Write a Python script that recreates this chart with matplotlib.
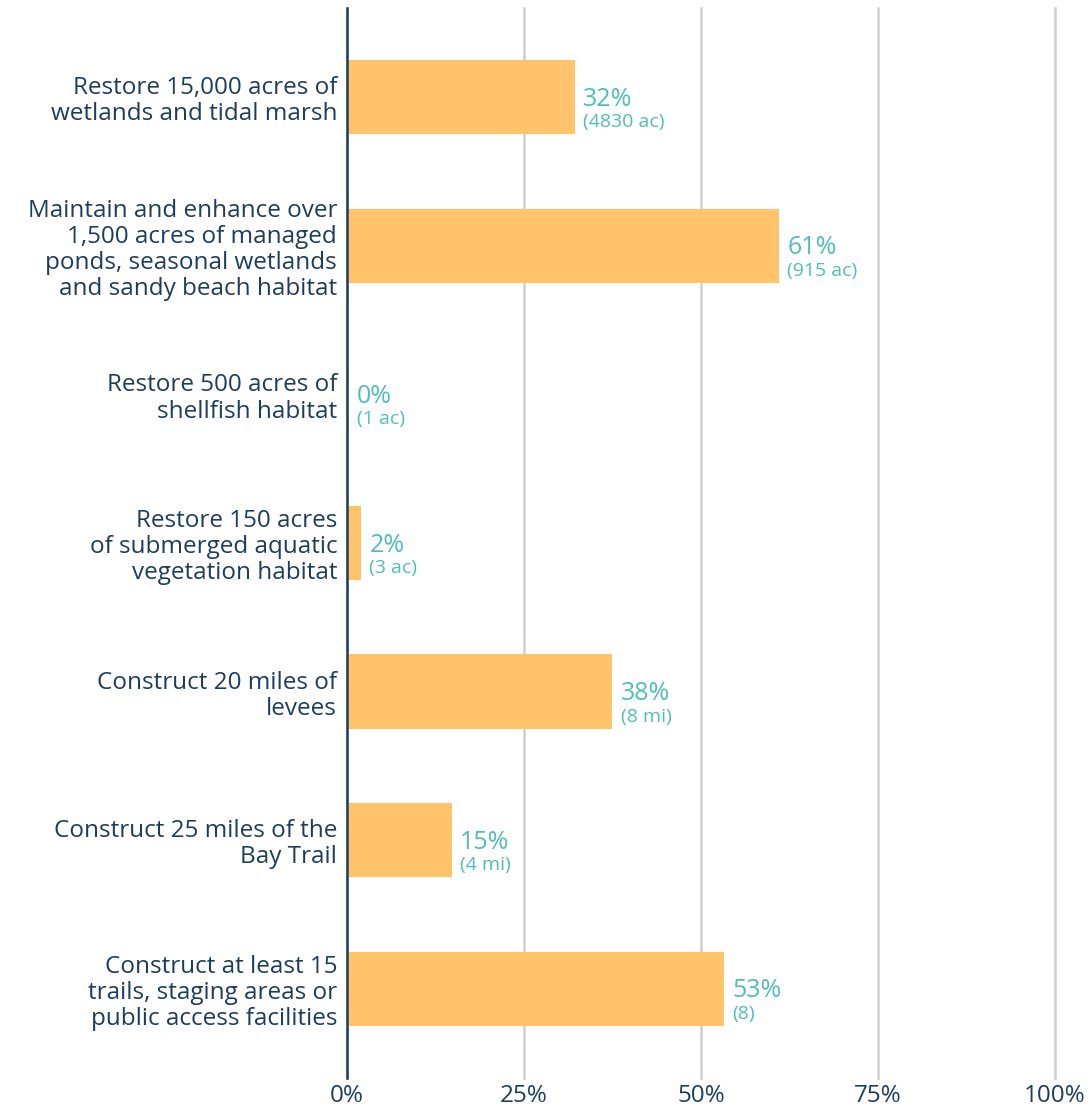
"""Progress toward restoration and access goals."""

import matplotlib.pyplot as plt
from matplotlib.ticker import FuncFormatter

goals = [
    "Restore 15,000 acres of\nwetlands and tidal marsh",
    "Maintain and enhance over\n1,500 acres of managed\nponds, seasonal wetlands\nand sandy beach habitat",
    "Restore 500 acres of\nshellfish habitat",
    "Restore 150 acres\nof submerged aquatic\nvegetation habitat",
    "Construct 20 miles of\nlevees",
    "Construct 25 miles of the\nBay Trail",
    "Construct at least 15\ntrails, staging areas or\npublic access facilities",
]
progress = [32.2, 61.0, 0.2, 2.0, 37.5, 14.8, 53.3]
pct_labels = ["32%", "61%", "0%", "2%", "38%", "15%", "53%"]
amount_labels = ["(4830 ac)", "(915 ac)", "(1 ac)", "(3 ac)", "(8 mi)", "(4 mi)", "(8)"]
ticks = [0, 25, 50, 75, 100]

BAR = "#FFC36A"
TEAL = "#4FBFB6"
NAVY = "#1D3D5E"
GRID = "#CFCFCF"

plt.rcParams["font.family"] = ["Open Sans", "DejaVu Sans"]

fig = plt.figure(figsize=(10.89, 11.10), dpi=100)
ax = fig.add_axes([0.3186, 0.0288, 0.9688 - 0.3186, 0.9928 - 0.0288])

y = list(range(len(goals)))
ax.barh(y, progress, height=0.5, color=BAR, zorder=3)

for i, (v, p, a) in enumerate(zip(progress, pct_labels, amount_labels)):
    ax.annotate(p, (v, i), xytext=(6, -1.5), textcoords="offset points",
                ha="left", va="center", fontsize=18, color=TEAL)
    ax.annotate(a, (v, i), xytext=(6, -18), textcoords="offset points",
                ha="left", va="center", fontsize=14, color=TEAL)

ax.set_xlim(0, 100)
ax.set_ylim(len(goals) - 0.4, -0.6)
ax.set_xticks(ticks)
ax.xaxis.set_major_formatter(FuncFormatter(lambda v, _: f"{v:.0f}%"))
ax.set_yticks(y)
ax.set_yticklabels(goals, fontsize=17.5, color=NAVY, linespacing=1.12)
ax.tick_params(axis="x", length=0, pad=4, labelsize=17.5, labelcolor=NAVY)
ax.tick_params(axis="y", length=0, pad=7)

ax.grid(axis="x", color=GRID, linewidth=1.8, zorder=0)
for line in ax.get_xgridlines():
    line.set_clip_on(False)
for s in ["top", "right", "bottom"]:
    ax.spines[s].set_visible(False)
ax.spines["left"].set_color(NAVY)
ax.spines["left"].set_linewidth(1.8)
ax.spines["left"].set_zorder(4)

fig.savefig("out.png", dpi=100)
